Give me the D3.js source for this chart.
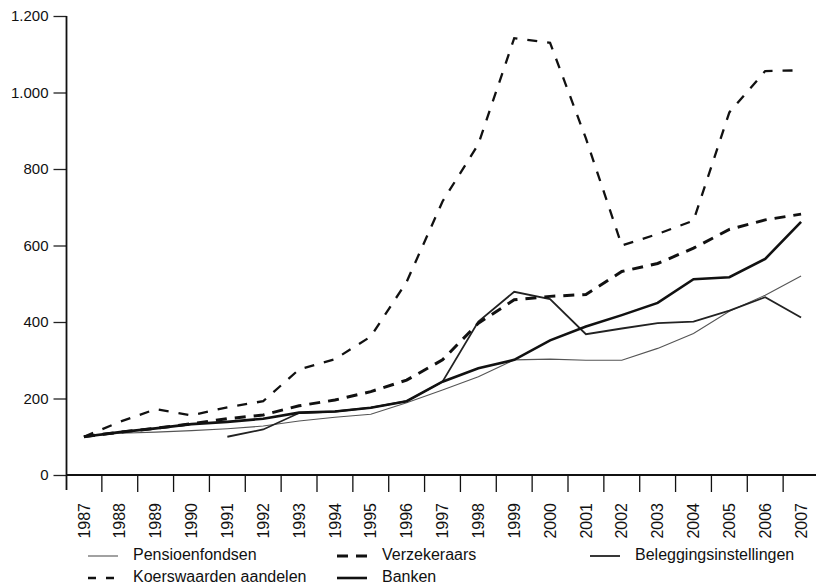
<!DOCTYPE html>
<html>
<head>
<meta charset="utf-8">
<script src="https://cdn.jsdelivr.net/npm/d3@7"></script>
<style>
  html, body { margin: 0; padding: 0; background: #fff; }
  svg { display: block; font-family: Arial, 'Liberation Sans', Helvetica, sans-serif; }
</style>
</head>
<body>
<svg id="chart" width="816" height="588"></svg>
<script>
// index, 1987 = 100
const years = [1987, 1988, 1989, 1990, 1991, 1992, 1993, 1994, 1995, 1996, 1997,
  1998, 1999, 2000, 2001, 2002, 2003, 2004, 2005, 2006, 2007];
const pensioenfondsen = [100, 109, 112, 116, 121, 128, 141, 151, 159, 189, 222,
  257, 301, 303, 300, 300, 331, 370, 428, 470, 520];
const koerswaarden = [100, 139, 172, 156, 177, 193, 276, 303, 362, 505, 715,
  865, 1142, 1130, 880, 600, 630, 665, 948, 1056, 1058];
const verzekeraars = [100, 112, 122, 134, 147, 157, 181, 196, 218, 248, 301,
  397, 458, 467, 472, 532, 553, 593, 642, 667, 682];
const banken = [100, 112, 122, 133, 139, 147, 163, 166, 176, 193, 244,
  279, 301, 352, 388, 418, 450, 512, 517, 565, 662];
const beleggingsinstellingen = [null, null, null, null, 100, 119, 162, 166, 176, 193, 244,
  401, 479, 460, 368, 383, 397, 401, 430, 465, 412];
const yTicks = [0, 200, 400, 600, 800, 1000, 1200];

const SERIES = [
  { name: 'Pensioenfondsen', values: pensioenfondsen, width: 1.1, color: '#555', dash: null },
  { name: 'Beleggingsinstellingen', values: beleggingsinstellingen, width: 1.8, color: '#222', dash: null },
  { name: 'Banken', values: banken, width: 2.6, color: '#111', dash: null },
  { name: 'Koerswaarden aandelen', values: koerswaarden, width: 2.3, color: '#111', dash: '10,10' },
  { name: 'Verzekeraars', values: verzekeraars, width: 3, color: '#111', dash: '11,8' },
];

const svg = d3.select('#chart');
svg.append('rect').attr('width', 816).attr('height', 588).attr('fill', '#fff');

const x = d3.scaleBand().domain(years).range([66, 819]).paddingInner(0).paddingOuter(0);
const y = d3.scaleLinear().domain([0, 1200]).range([475, 16]);
const cx = yr => x(yr) + x.bandwidth() / 2;

const nl = d3.formatLocale({ decimal: ',', thousands: '.', grouping: [3], currency: ['', ''] });
const fmt = nl.format(',');

// y axis
const yAxis = svg.append('g')
  .attr('transform', 'translate(66.5,0)')
  .call(d3.axisLeft(y).tickValues(yTicks).tickFormat(fmt).tickSize(13).tickPadding(5));
yAxis.select('.domain').remove();
yAxis.selectAll('.tick line').attr('stroke', '#222').attr('stroke-width', 1.3);
yAxis.selectAll('.tick text').attr('font-size', 15).attr('fill', '#111')
  .attr('font-family', 'Arial, Liberation Sans, sans-serif');
svg.append('line')
  .attr('x1', 66.5).attr('x2', 66.5).attr('y1', y(1200)).attr('y2', 490)
  .attr('stroke', '#111').attr('stroke-width', 1.8);

// x axis: ticks on band edges, labels in the middle
const xAxis = svg.append('g');
xAxis.append('line')
  .attr('x1', 66).attr('x2', x.range()[1]).attr('y1', 475).attr('y2', 475)
  .attr('stroke', '#111').attr('stroke-width', 2);
const edges = years.map(d => x(d)).concat([x.range()[1] - 1]);
xAxis.selectAll('line.edge').data(edges.slice(1)).join('line')
  .attr('class', 'edge')
  .attr('x1', d => d).attr('x2', d => d).attr('y1', 475).attr('y2', 492)
  .attr('stroke', '#111').attr('stroke-width', 1.3);
xAxis.selectAll('text').data(years).join('text')
  .attr('transform', d => `translate(${cx(d)},503) rotate(-90)`)
  .attr('text-anchor', 'end').attr('dy', '0.35em')
  .attr('font-size', 16).attr('fill', '#111')
  .text(d => d);

// lines
const line = d3.line()
  .defined(d => d.v != null)
  .x(d => cx(d.year))
  .y(d => y(d.v));

svg.append('g').selectAll('path').data(SERIES).join('path')
  .attr('d', s => line(years.map((yr, i) => ({ year: yr, v: s.values[i] }))))
  .attr('fill', 'none')
  .attr('stroke', s => s.color)
  .attr('stroke-width', s => s.width)
  .attr('stroke-dasharray', s => s.dash)
  .attr('stroke-linejoin', 'miter');

// legend
const LEGEND = [
  { name: 'Pensioenfondsen', x: 88, y: 554 },
  { name: 'Verzekeraars', x: 337, y: 554 },
  { name: 'Beleggingsinstellingen', x: 590, y: 554 },
  { name: 'Koerswaarden aandelen', x: 88, y: 576 },
  { name: 'Banken', x: 337, y: 576 },
];
const legendDash = { 'Koerswaarden aandelen': '8,10', 'Verzekeraars': '11,8' };
const lg = svg.append('g').selectAll('g').data(LEGEND).join('g')
  .attr('transform', d => `translate(${d.x},${d.y})`);
lg.append('line')
  .attr('x1', 0).attr('x2', 30).attr('y1', 2).attr('y2', 2)
  .attr('stroke', d => SERIES.find(s => s.name === d.name).color)
  .attr('stroke-width', d => SERIES.find(s => s.name === d.name).width)
  .attr('stroke-dasharray', d => legendDash[d.name] ?? null);
lg.append('text')
  .attr('x', 45).attr('dy', '0.35em')
  .attr('font-size', 16).attr('fill', '#111')
  .text(d => d.name);
</script>
</body>
</html>
